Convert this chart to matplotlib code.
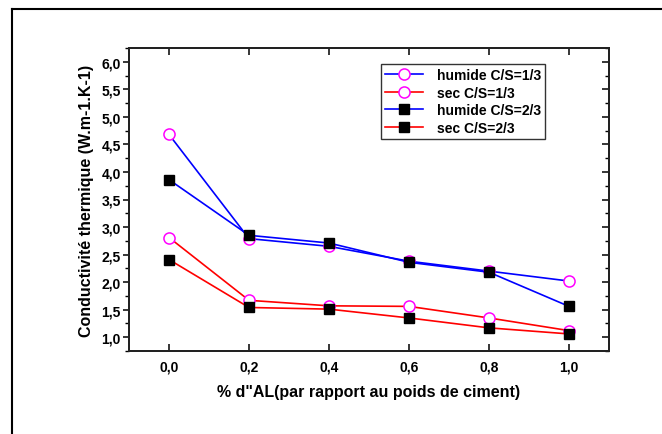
import matplotlib
matplotlib.use("Agg")
import matplotlib.pyplot as plt
from matplotlib.lines import Line2D
from matplotlib.ticker import MultipleLocator, FuncFormatter

plt.rcParams["font.family"] = ["Liberation Sans", "DejaVu Sans"]
plt.rcParams["font.weight"] = "bold"

# % d'AL (par rapport au poids de ciment)
al_pct = [0.0, 0.2, 0.4, 0.6, 0.8, 1.0]

humide_13 = [4.68, 2.79, 2.65, 2.38, 2.20, 2.02]
sec_13 = [2.81, 1.67, 1.57, 1.56, 1.35, 1.12]
humide_23 = [3.86, 2.85, 2.71, 2.36, 2.18, 1.56]
sec_23 = [2.41, 1.54, 1.51, 1.35, 1.17, 1.06]

BLUE = "#0000ff"
RED = "#ff0000"
MAGENTA = "#ff00ff"

fig = plt.figure(figsize=(6.62, 4.35), dpi=100)
fig.patch.set_facecolor("white")

# outer page frame (only top and left edges visible)
fig.add_artist(Line2D([12 / 662, 1.0], [1 - 10 / 435, 1 - 10 / 435],
                      transform=fig.transFigure, color="black", lw=1.5))
fig.add_artist(Line2D([12 / 662, 12 / 662], [0.0, 1 - 10 / 435],
                      transform=fig.transFigure, color="black", lw=1.5))

ax = fig.add_axes([129 / 662, 1 - 352 / 435, (609 - 129) / 662, (352 - 49) / 435])

circle = dict(marker="o", markersize=8, markerfacecolor="white",
              markeredgecolor=MAGENTA, markeredgewidth=1.1)
square = dict(marker="s", markersize=7.5, markerfacecolor="black",
              markeredgecolor="black")

ax.plot(al_pct, humide_13, color=BLUE, lw=1.2, label="humide C/S=1/3", **circle)
ax.plot(al_pct, sec_13, color=RED, lw=1.2, label="sec C/S=1/3", **circle)
ax.plot(al_pct, humide_23, color=BLUE, lw=1.2, label="humide C/S=2/3", **square)
ax.plot(al_pct, sec_23, color=RED, lw=1.2, label="sec C/S=2/3", **square)

ax.set_xlim(-0.1, 1.1)
ax.set_ylim(0.75, 6.25)
ax.xaxis.set_major_locator(MultipleLocator(0.2))
ax.yaxis.set_major_locator(MultipleLocator(0.5))
ax.yaxis.set_minor_locator(MultipleLocator(0.25))
comma = FuncFormatter(lambda v, p: f"{v:.1f}".replace(".", ","))
ax.xaxis.set_major_formatter(comma)
ax.yaxis.set_major_formatter(comma)

ax.tick_params(axis="x", which="major", direction="in", top=True, bottom=True,
               length=5, width=1.1, labelsize=10, pad=6)
ax.tick_params(axis="y", which="major", direction="out", left=True, right=False,
               length=4, width=1.1, labelsize=10, pad=2)
ax.tick_params(axis="y", which="minor", direction="out", left=True, right=False,
               length=3, width=1.0)
for lab in ax.get_xticklabels() + ax.get_yticklabels():
    lab.set_fontweight("bold")

# right-side inward ticks
axr = ax.twinx()
axr.set_ylim(ax.get_ylim())
axr.yaxis.set_major_locator(MultipleLocator(0.5))
axr.yaxis.set_minor_locator(MultipleLocator(0.25))
axr.tick_params(axis="y", which="major", direction="in", length=5, width=1.1,
                labelright=False)
axr.tick_params(axis="y", which="minor", direction="in", length=3, width=1.0)

for a in (ax, axr):
    for sp in a.spines.values():
        sp.set_linewidth(1.4)
        sp.set_color("#222222")

ax.set_xlabel("% d\"AL(par rapport au poids de ciment)", fontsize=11.5,
              fontweight="bold", labelpad=8)
ax.set_ylabel("Conductivité thermique (W.m-1.K-1)", fontsize=11.5,
              fontweight="bold", labelpad=5)

leg = ax.legend(loc="upper left", bbox_to_anchor=((381 - 129) / 480, 1 - (65 - 49) / 303),
                frameon=True, fancybox=False, edgecolor="black", fontsize=10,
                handlelength=2.7, handletextpad=1.0, borderpad=0.3,
                labelspacing=0.25, borderaxespad=0)
leg.get_frame().set_linewidth(1.0)
for t in leg.get_texts():
    t.set_fontweight("bold")

fig.savefig("out.png", dpi=100, facecolor="white")
